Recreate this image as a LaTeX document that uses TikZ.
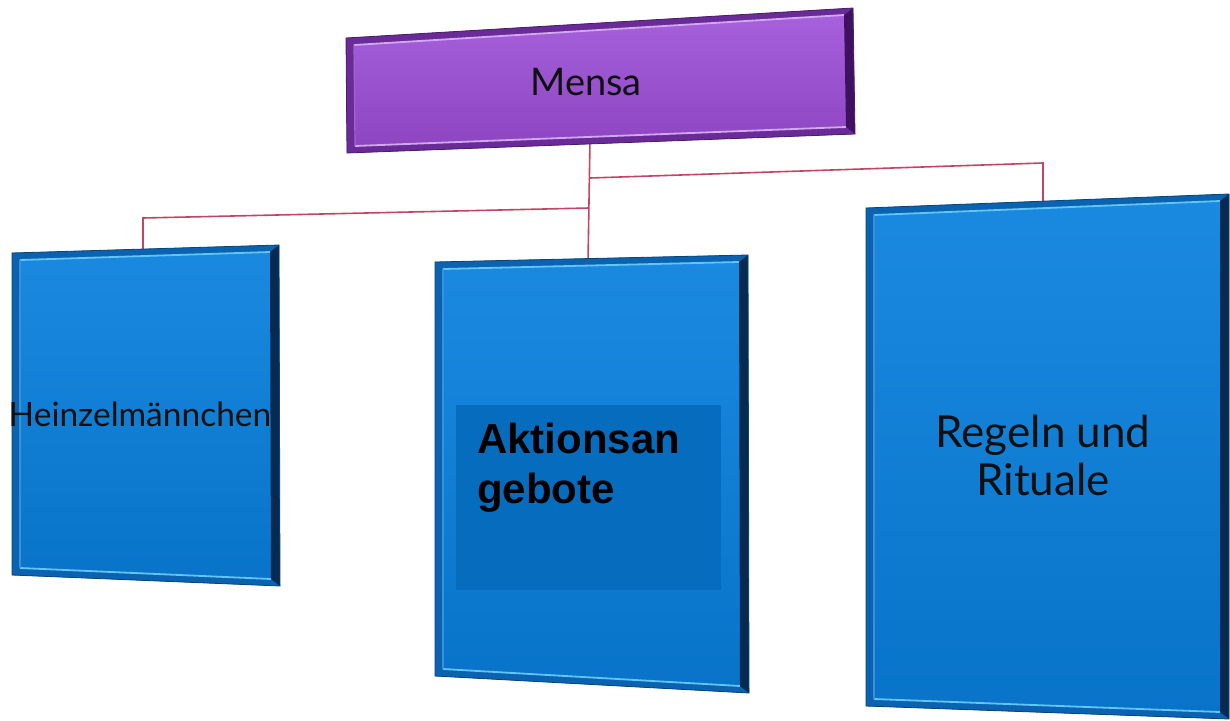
\documentclass[tikz,border=0pt]{standalone}
\usepackage{fontspec}
\setmainfont{Lato}
\newfontfamily\arialfont{Liberation Sans}
\usetikzlibrary{calc}
\definecolor{purpTop}{HTML}{A862DE}
\definecolor{purpBot}{HTML}{8C44C0}
\definecolor{purpDark}{HTML}{3E1260}
\definecolor{purpLight}{HTML}{D2A8F0}
\definecolor{purpEdge}{HTML}{6A2A98}
\definecolor{blueTop}{HTML}{1A8AE0}
\definecolor{blueBot}{HTML}{0873C8}
\definecolor{blueDark}{HTML}{062A50}
\definecolor{blueLight}{HTML}{62C4F7}
\definecolor{blueEdge}{HTML}{0B62B0}
\definecolor{innerBlue}{HTML}{066DBE}
\definecolor{lineRed}{HTML}{C24664}
\definecolor{txt}{HTML}{101010}
\tikzset{
  conn/.style={draw=lineRed, line width=1.6},
  lbl/.style={inner sep=0, align=center, text=txt},
}
% #1 name, #2 top fill, #3 bottom fill, #4 dark, #5 light, #6 edge
\newcommand{\bevelpanel}[6]{%
  \shade[top color=#2, bottom color=#3] (#1-a)--(#1-b)--(#1-c)--(#1-d)--cycle;
  \fill[#6] (#1-a)--(#1-b)--($(#1-b)+(-9,7)$)--($(#1-a)+(8,7)$)--cycle;
  \fill[#6] (#1-a)--($(#1-a)+(8,7)$)--($(#1-d)+(8,-7)$)--(#1-d)--cycle;
  \fill[#6] (#1-d)--(#1-c)--($(#1-c)+(-9,-7)$)--($(#1-d)+(8,-7)$)--cycle;
  \draw[#5, line width=1.8] ($(#1-a)+(8,7)$)--($(#1-b)+(-9,7)$);
  \draw[#5, line width=1.8] ($(#1-d)+(8,-7)$)--($(#1-c)+(-9,-7)$);
  \draw[#5!50!#6, line width=1.2] ($(#1-a)+(8,7)$)--($(#1-d)+(8,-7)$);
  \fill[#4] (#1-b)--(#1-c)--($(#1-c)+(-9,-7)$)--($(#1-b)+(-9,7)$)--cycle;
  \draw[#6!70!black, line width=0.8] (#1-a)--(#1-b)--(#1-c)--(#1-d)--cycle;
}
\begin{document}
\begin{tikzpicture}[x=1pt,y=-1pt]
\useasboundingbox (0,0) rectangle (1230,720);
\fill[white] (0,0) rectangle (1230,720);
% corner coordinates
\coordinate (mensa-a) at (346,38);  \coordinate (mensa-b) at (853,8);
\coordinate (mensa-c) at (855,134); \coordinate (mensa-d) at (347,153);
\coordinate (left-a) at (12,253);   \coordinate (left-b) at (279,245);
\coordinate (left-c) at (280,586);  \coordinate (left-d) at (12,575);
\coordinate (mid-a) at (435,262);   \coordinate (mid-b) at (748,255);
\coordinate (mid-c) at (749,693);   \coordinate (mid-d) at (435,676);
\coordinate (right-a) at (866,208); \coordinate (right-b) at (1229,194);
\coordinate (right-c) at (1229,719);\coordinate (right-d) at (866,706);
% connector points
\coordinate (mensaBot) at (590,140);
\coordinate (jRight) at (590,178);
\coordinate (jLeft) at (589,208);
\coordinate (turnRight) at (1043,163);
\coordinate (turnLeft) at (143,218);
\coordinate (leftTop) at (143,252);
\coordinate (midTop) at (588,262);
\coordinate (rightTop) at (1043,204);
% connectors
\draw[conn] (mensaBot) -- (midTop);
\draw[conn] (jRight) -- (turnRight) -- (rightTop);
\draw[conn] (jLeft) -- (turnLeft) -- (leftTop);
% panels
\bevelpanel{mensa}{purpTop}{purpBot}{purpDark}{purpLight}{purpEdge}
\bevelpanel{left}{blueTop}{blueBot}{blueDark}{blueLight}{blueEdge}
\bevelpanel{mid}{blueTop}{blueBot}{blueDark}{blueLight}{blueEdge}
\bevelpanel{right}{blueTop}{blueBot}{blueDark}{blueLight}{blueEdge}
\fill[innerBlue] (456,405) rectangle (721,590);
% labels
\node[lbl, font=\fontsize{38}{44}\selectfont] (mensa) at (586,82) {Mensa};
\node[lbl, font=\fontsize{33.5}{40}\selectfont] (heinzel) at (140,414) {Heinzelmännchen};
\node[lbl, font=\fontsize{44}{48}\selectfont] (regeln) at (1043,455) {Regeln und\\Rituale};
\node[inner sep=0, anchor=north west, align=left, font=\arialfont\bfseries\fontsize{42}{50}\selectfont] (aktion) at (477,423) {Aktionsan\\gebote};
\end{tikzpicture}
\end{document}
